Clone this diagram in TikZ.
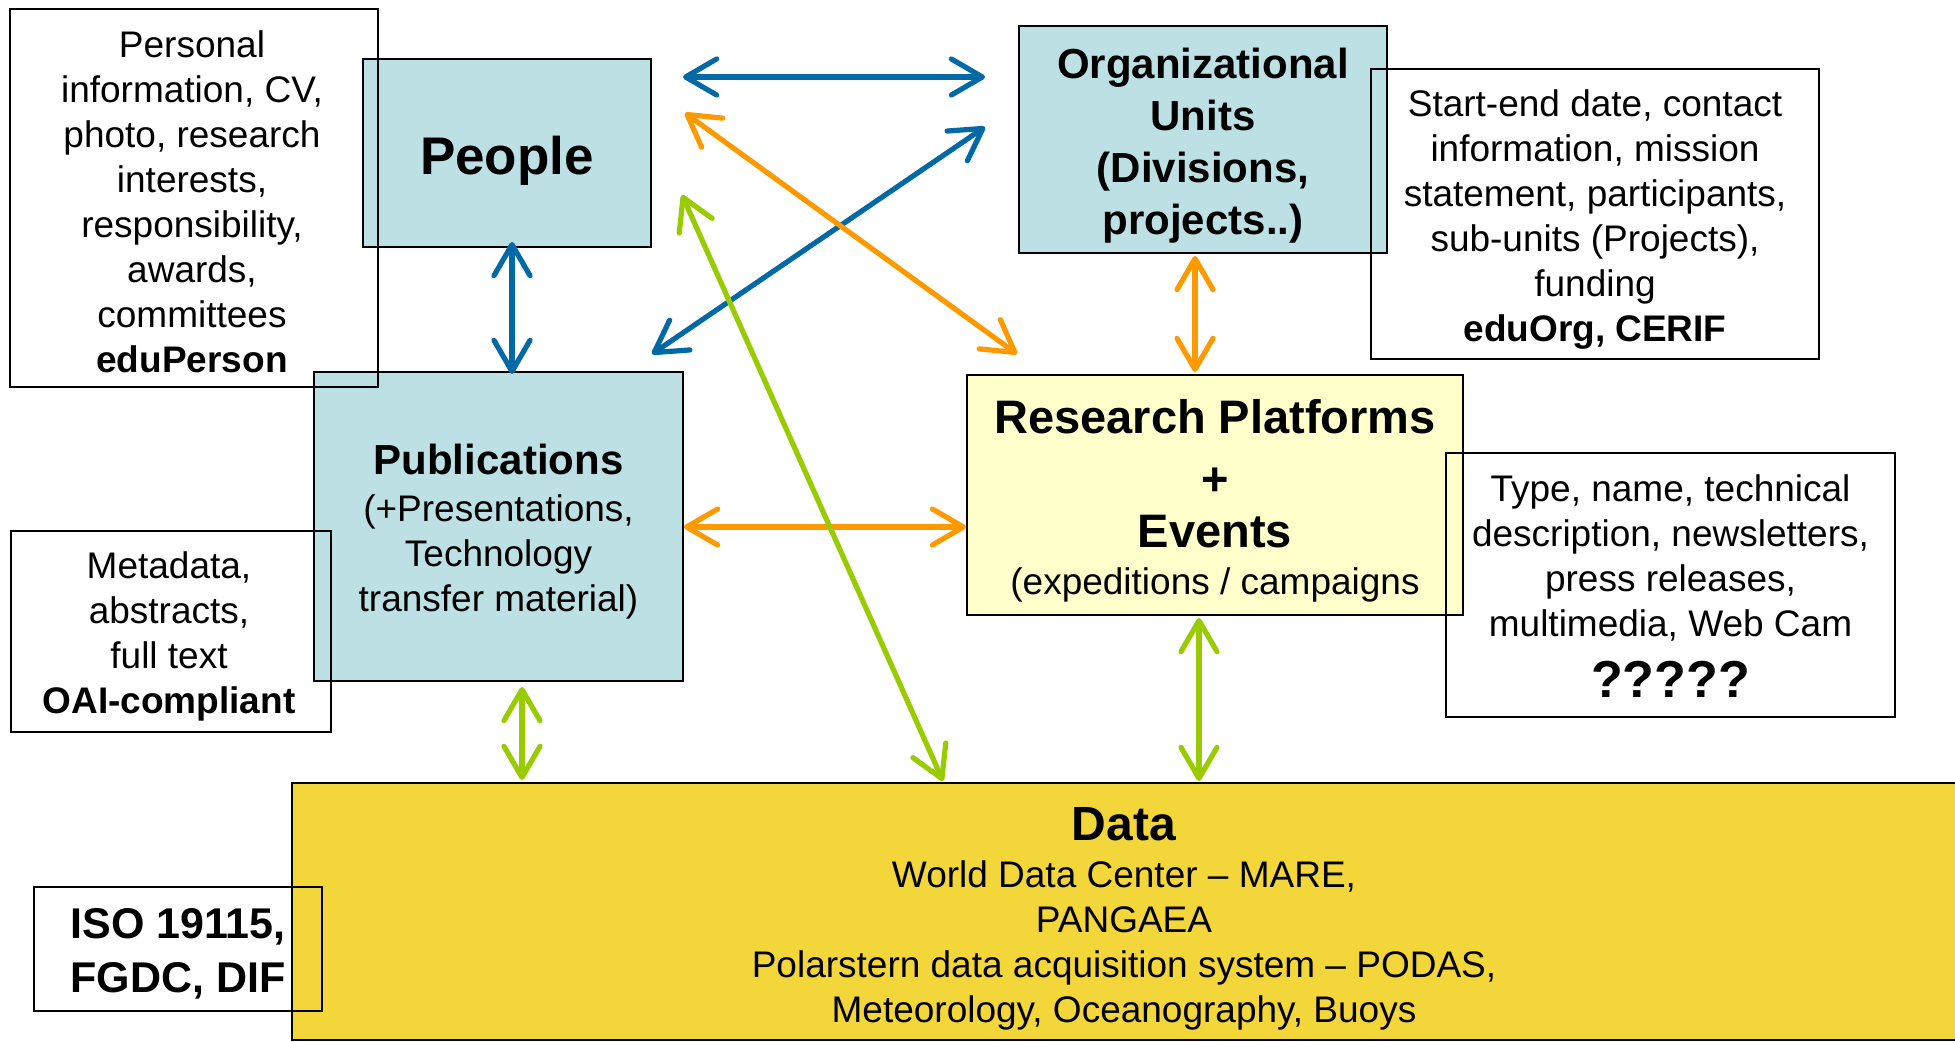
\documentclass[tikz,border=0pt]{standalone}
\usepackage{fontspec}
\setmainfont{Liberation Sans}
\usetikzlibrary{arrows.meta}
\definecolor{lblue}{HTML}{BCE0E3}
\definecolor{pyellow}{HTML}{FFFFCC}
\definecolor{dyellow}{HTML}{F3D63A}
\definecolor{ablue}{HTML}{0069A6}
\definecolor{aorange}{HTML}{FF9900}
\definecolor{agreen}{HTML}{99CC00}
\newcommand{\nrm}{\fontsize{18.5}{22.5}\selectfont}
\begin{document}
\begin{tikzpicture}[x=0.5pt,y=-0.5pt,
  ent/.style={draw=black, line width=1.3pt, inner sep=0pt},
  note/.style={draw=black, line width=1.1pt, inner sep=0pt},
  txt/.style={inner sep=0pt, align=center, font=\nrm},
  link/.style={line width=2.6pt, {Straight Barb[length=15.5pt,width=18pt,round]}-{Straight Barb[length=15.5pt,width=18pt,round]}},
]
\useasboundingbox (0,0) rectangle (1955,1042);
\fill[white] (0,0) rectangle (1955,1042);

% entity boxes
\node[ent, fill=lblue, minimum width=144pt, minimum height=94pt] (people) at (507,153) {};
\node[ent, fill=lblue, minimum width=184.5pt, minimum height=154.5pt] (pub) at (498.5,526.5) {};
\node[ent, fill=lblue, minimum width=184pt, minimum height=113.5pt] (org) at (1203,139.5) {};
\node[ent, fill=pyellow, minimum width=248pt, minimum height=120pt] (research) at (1215,495) {};
\node[ent, fill=dyellow, minimum width=832pt, minimum height=128.5pt] (data) at (1124,911.5) {};

\node[txt, font=\fontsize{26.5}{30}\selectfont\bfseries] (peopletxt) at ([yshift=-3.8pt]people.center) {People};
\node[txt] (pubtxt) at ([yshift=-2.5pt]pub.center)
  {{\fontsize{21}{24}\selectfont\bfseries Publications}\\[1pt] (+Presentations,\\ Technology\\ transfer material)};
\node[txt, font=\fontsize{21}{26}\selectfont\bfseries] (orgtxt) at ([yshift=-3pt]org.center)
  {Organizational\\ Units\\ (Divisions,\\ projects..)};
\node[txt, font=\fontsize{23.5}{26}\selectfont\bfseries] (researchtxt) at ([yshift=-3pt]research.center)
  {Research Platforms\\[5pt] +\\ Events\\[-2.5pt] {\nrm\mdseries (expeditions / campaigns}};
\node[txt] (datatxt) at ([yshift=-3.5pt]data.center)
  {{\fontsize{24}{26}\selectfont\bfseries Data}\\[1pt] World Data Center -- MARE,\\ PANGAEA\\
   Polarstern data acquisition system -- PODAS,\\ Meteorology, Oceanography, Buoys};

% note boxes
\node[note, minimum width=184pt, minimum height=189pt] (personal) at (194,198) {};
\node[note, minimum width=160pt, minimum height=100.5pt] (meta) at (171,631.5) {};
\node[note, minimum width=224pt, minimum height=145pt] (startend) at (1595,214) {};
\node[note, minimum width=224.5pt, minimum height=132pt] (typebox) at (1670.5,585) {};
\node[note, minimum width=144pt, minimum height=62pt] (iso) at (178,949) {};

\node[txt] (personaltxt) at ([xshift=-1pt,yshift=-2pt]personal.center)
  {Personal\\ information, CV,\\ photo, research\\ interests,\\ responsibility,\\ awards,\\ committees\\ \textbf{eduPerson}};
\node[txt] (metatxt) at ([xshift=-1pt,yshift=-2.5pt]meta.center)
  {Metadata,\\ abstracts,\\ full text\\ \textbf{OAI-compliant}};
\node[txt] (startendtxt) at ([yshift=-3pt]startend.center)
  {Start-end date, contact\\ information, mission\\ statement, participants,\\ sub-units (Projects),\\ funding\\ \textbf{eduOrg, CERIF}};
\node[txt] (typetxt) at ([yshift=-0.5pt]typebox.center)
  {Type, name, technical\\ description, newsletters,\\ press releases,\\ multimedia, Web Cam\\[8pt] {\fontsize{26}{28}\selectfont\bfseries ?????}};
\node[txt, font=\fontsize{21.5}{27.25}\selectfont\bfseries] (isotxt) at ([yshift=-2.5pt]iso.center)
  {ISO 19115,\\ FGDC, DIF};

% connector end points
\coordinate (b1s) at (683,77);   \coordinate (b1e) at (985,77);
\coordinate (o1s) at (685,113);  \coordinate (o1e) at (1017,354);
\coordinate (b2s) at (652,354);  \coordinate (b2e) at (985,127);
\coordinate (g1s) at (682,195);  \coordinate (g1e) at (943,781);
\coordinate (b3s) at (512,242);  \coordinate (b3e) at (512,374);
\coordinate (o2s) at (1195,256); \coordinate (o2e) at (1195,372);
\coordinate (o3s) at (684,527);  \coordinate (o3e) at (966,527);
\coordinate (g2s) at (522,687);  \coordinate (g2e) at (522,780);
\coordinate (g3s) at (1199,618); \coordinate (g3e) at (1199,781);

% connectors
\draw[link, ablue] (b1s) -- (b1e);
\draw[link, ablue] (b2s) -- (b2e);
\draw[link, aorange] (o1s) -- (o1e);
\draw[link, ablue] (b3s) -- (b3e);
\draw[link, aorange] (o2s) -- (o2e);
\draw[link, aorange] (o3s) -- (o3e);
\draw[link, agreen] (g1s) -- (g1e);
\draw[link, agreen] (g2s) -- (g2e);
\draw[link, agreen] (g3s) -- (g3e);
\end{tikzpicture}
\end{document}
